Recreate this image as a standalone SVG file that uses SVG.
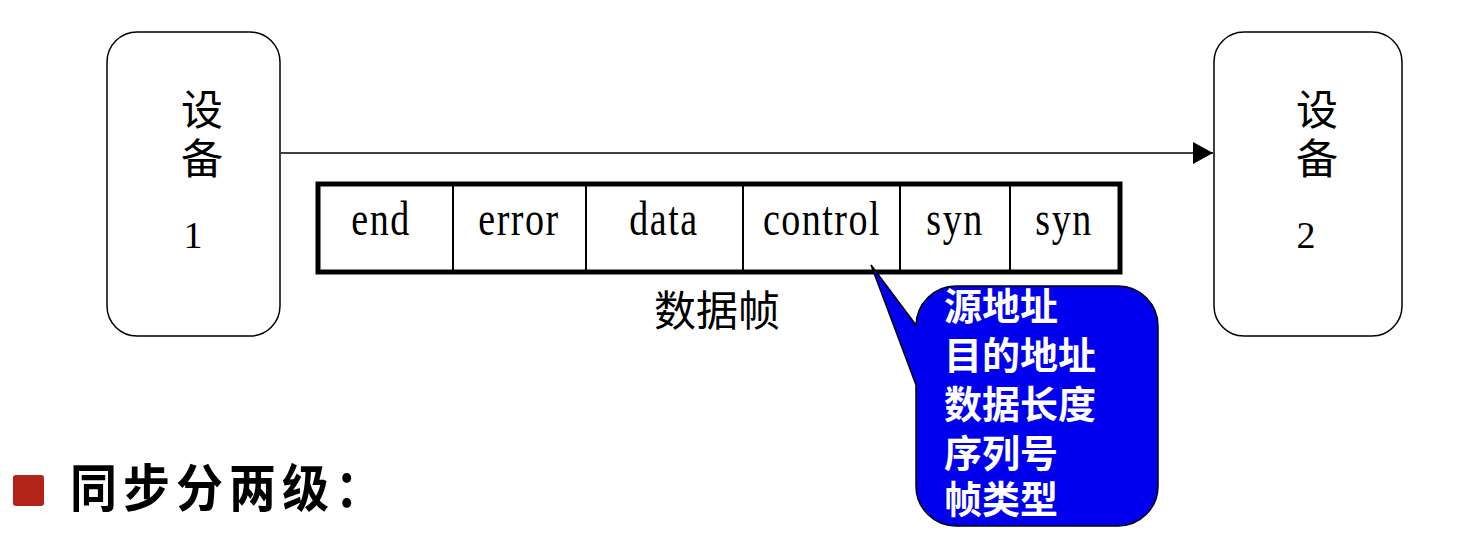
<svg xmlns="http://www.w3.org/2000/svg" width="1477" height="535" viewBox="0 0 1477 535">
<style>
.dev{fill:#fff;stroke:#000;stroke-width:1.5}
.t{font-family:"Liberation Serif","Noto Sans CJK SC",serif;font-size:38px;fill:#000;text-anchor:middle}
.ft{font-family:"Liberation Serif",serif;font-size:38px;fill:#000;text-anchor:middle;letter-spacing:1.5px}
.cj{font-family:"Noto Sans CJK SC",sans-serif;font-size:42px;fill:#000;text-anchor:middle}
.cell{fill:none;stroke:#000;stroke-width:2}
.wt{font-family:"Noto Sans CJK SC",sans-serif;font-weight:bold;font-size:38px;fill:#fff}
</style>
<defs>
<marker id="ah" markerWidth="20" markerHeight="22" refX="20" refY="11" orient="auto" markerUnits="userSpaceOnUse">
<path d="M0,0 L20,11 L0,22 Z" fill="#000"/>
</marker>
</defs>
<rect width="1477" height="535" fill="#fff"/>
<g id="connectors">
<line x1="281" y1="153" x2="1213" y2="153" stroke="#000" stroke-width="1.5" marker-end="url(#ah)"/>
</g>
<g id="device1">
<rect class="dev" x="107" y="32" width="173" height="304" rx="30"/>
<text class="cj" x="202" y="125">设</text>
<text class="cj" x="202" y="174">备</text>
<text class="t" x="193" y="248">1</text>
</g>
<g id="device2">
<rect class="dev" x="1214" y="32" width="188" height="304" rx="30"/>
<text class="cj" x="1317" y="125">设</text>
<text class="cj" x="1317" y="174">备</text>
<text class="t" x="1306" y="248">2</text>
</g>
<g id="frame">
<rect x="318" y="184" width="802" height="88" fill="#fff" stroke="#000" stroke-width="5"/>
<line class="cell" x1="453" y1="184" x2="453" y2="272"/>
<line class="cell" x1="586" y1="184" x2="586" y2="272"/>
<line class="cell" x1="743" y1="184" x2="743" y2="272"/>
<line class="cell" x1="900" y1="184" x2="900" y2="272"/>
<line class="cell" x1="1010" y1="184" x2="1010" y2="272"/>
<text class="ft" transform="translate(381,235) scale(1,1.25)">end</text>
<text class="ft" transform="translate(519,235) scale(1,1.25)">error</text>
<text class="ft" transform="translate(664,235) scale(1,1.25)">data</text>
<text class="ft" transform="translate(822,235) scale(1,1.25)">control</text>
<text class="ft" transform="translate(955,235) scale(1,1.25)">syn</text>
<text class="ft" transform="translate(1064,235) scale(1,1.25)">syn</text>
<text class="cj" x="717" y="326">数据帧</text>
</g>
<g id="callout">
<path d="M956,286 H1118 A40,40 0 0 1 1158,326 V486 A40,40 0 0 1 1118,526 H956 A40,40 0 0 1 916,486 V385 L871,265 L916,325 V326 A40,40 0 0 1 956,286 Z" fill="#0000EE" stroke="#000" stroke-width="1.5"/>
<text class="wt" x="944" y="320">源地址</text>
<text class="wt" x="944" y="369">目的地址</text>
<text class="wt" x="944" y="418">数据长度</text>
<text class="wt" x="944" y="467">序列号</text>
<text class="wt" x="944" y="513">帧类型</text>
</g>
<g id="bullet">
<rect x="13" y="475" width="31" height="31" rx="3" fill="#B22418"/>
<text transform="translate(70,507) scale(1,1.1)" style="font-family:'Noto Sans CJK SC',sans-serif;font-weight:bold;font-size:47px;letter-spacing:6px;fill:#000">同步分两级：</text>
</g>
</svg>
